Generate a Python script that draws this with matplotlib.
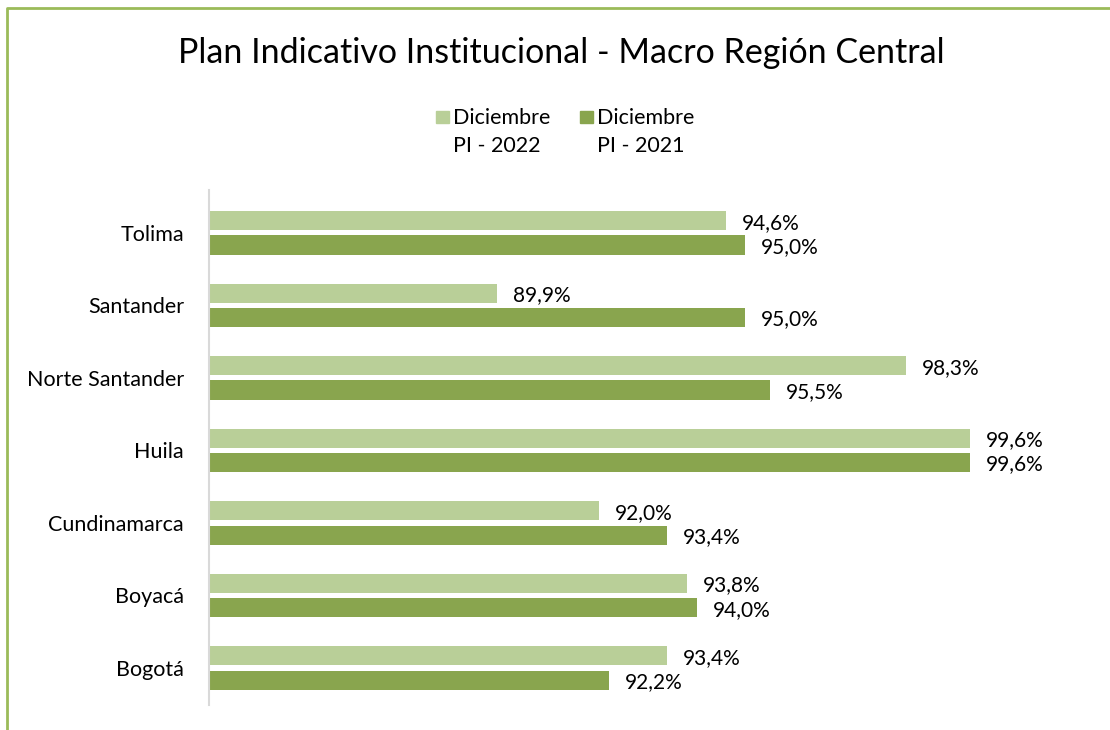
import matplotlib.pyplot as plt
from matplotlib.patches import Rectangle
from matplotlib.lines import Line2D
import numpy as np

plt.rcParams['font.family'] = ['Lato', 'DejaVu Sans']

# datos (de abajo hacia arriba)
regiones = ['Bogotá', 'Boyacá', 'Cundinamarca', 'Huila', 'Norte Santander', 'Santander', 'Tolima']
pi_2022 = [93.4, 93.8, 92.0, 99.6, 98.3, 89.9, 94.6]
pi_2021 = [92.2, 94.0, 93.4, 99.6, 95.5, 95.0, 95.0]
leyenda = [('Diciembre', 'PI - 2022'), ('Diciembre', 'PI - 2021')]

c_claro = '#B9CF98'
c_oscuro = '#89A54E'

fig = plt.figure(figsize=(11.1, 7.3), dpi=100)
ax = fig.add_axes([209 / 1110, 1 - 705 / 730, (989 - 209) / 1110, (705 - 190) / 730])

y = np.arange(len(regiones))
h = 0.265
off = 0.168
ax.barh(y + off, pi_2022, height=h, left=0, color=c_claro)
ax.barh(y - off, pi_2021, height=h, left=0, color=c_oscuro)

ax.set_xlim(84, 100)
ax.set_ylim(-0.51, 6.59)

# etiquetas de datos
for yy, v in zip(y, pi_2022):
    ax.annotate(f'{v:.1f}%'.replace('.', ','), (v, yy + off), xytext=(16, -2),
                textcoords='offset pixels', va='center', ha='left', fontsize=15, clip_on=False)
for yy, v in zip(y, pi_2021):
    ax.annotate(f'{v:.1f}%'.replace('.', ','), (v, yy - off), xytext=(16, -2),
                textcoords='offset pixels', va='center', ha='left', fontsize=15, clip_on=False)

ax.set_yticks(y)
ax.set_yticklabels(regiones, fontsize=15.5)
ax.tick_params(axis='y', length=0, pad=18)
ax.set_xticks([])
for s in ['top', 'right', 'bottom']:
    ax.spines[s].set_visible(False)
ax.spines['left'].set_color('#D9D9D9')
ax.spines['left'].set_linewidth(1.5)

# titulo
fig.text(561 / 1110, 1 - 53 / 730, 'Plan Indicativo Institucional - Macro Región Central',
         ha='center', va='center', fontsize=24.5)

# leyenda manual
for x0, col, (l1, l2) in [(436, c_claro, leyenda[0]), (580, c_oscuro, leyenda[1])]:
    fig.patches.append(Rectangle((x0 / 1110, 1 - 123 / 730), 13 / 1110, 12 / 730,
                                 transform=fig.transFigure, color=col))
    fig.text((x0 + 17) / 1110, 1 - 118 / 730, l1, ha='left', va='center', fontsize=15.5)
    fig.text((x0 + 17) / 1110, 1 - 146 / 730, l2, ha='left', va='center', fontsize=15.5)

# borde
fig.lines.append(Line2D([7 / 1110, 7 / 1110, 1.0], [0.0, 1 - 8 / 730, 1 - 8 / 730],
                        transform=fig.transFigure, color='#9BBB59', linewidth=2))

fig.savefig('out.png', dpi=100)
